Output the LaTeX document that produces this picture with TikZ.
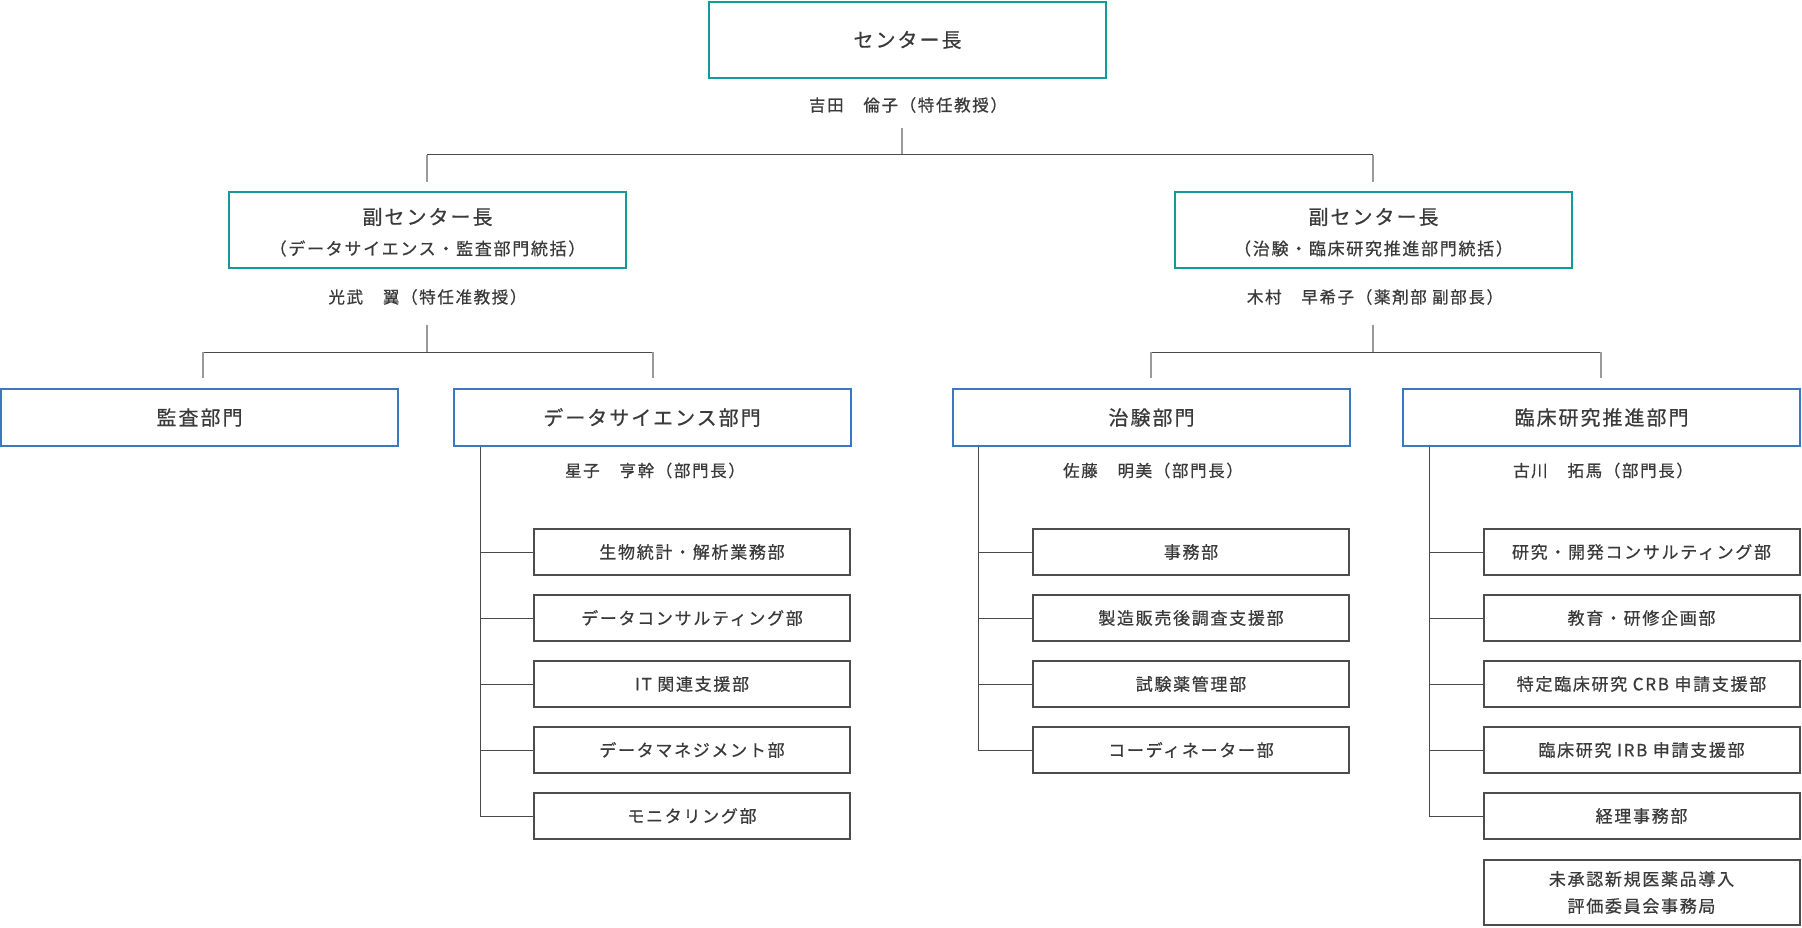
\documentclass[tikz,border=0pt]{standalone}
\usepackage{fontspec}
\setmainfont{Noto Sans CJK JP}[LetterSpace=10,FakeBold=0.6]
\definecolor{tealc}{HTML}{139B9B}
\definecolor{bluec}{HTML}{3A78C1}
\definecolor{boxc}{HTML}{4D4D4D}
\definecolor{txtc}{HTML}{3A3A3A}
\definecolor{lnc}{HTML}{4A4A4A}
\definecolor{dropc}{HTML}{9A9A9A}
\tikzset{
  tealbox/.style={draw=tealc, line width=2pt, minimum width=397pt, minimum height=76pt, inner sep=0pt},
  bluebox/.style={draw=bluec, line width=2pt, minimum width=397pt, minimum height=57pt, inner sep=0pt, font=\fontsize{20}{24}\selectfont},
  subbox/.style={draw=boxc, line width=2pt, minimum width=316pt, minimum height=46pt, inner sep=0pt, font=\fontsize{17}{27}\selectfont, align=center},
  ttl/.style={inner sep=0pt, font=\fontsize{20}{24}\selectfont},
  subt/.style={inner sep=0pt, font=\fontsize{17}{21}\selectfont},
  nm/.style={inner sep=0pt, font=\fontsize{16.5}{20}\selectfont},
  conn/.style={draw=lnc, line width=1pt},
  dropln/.style={draw=dropc, line width=1.5pt},
  tree/.style={draw=lnc, line width=1pt},
}
\begin{document}
\begin{tikzpicture}[x=1pt,y=-1pt, every node/.style={text=txtc}]
\useasboundingbox[fill=white] (0,0) rectangle (1802,928);

% director
\node[tealbox, font=\fontsize{20}{24}\selectfont] (dir) at (907.5,40) {センター長};
\node[nm] (dirn) at (908,105) {吉田　倫子（特任教授）};
\coordinate (c0) at (902,128);
\coordinate (c1) at (902,155);
\coordinate (hL) at (427,155);
\coordinate (hR) at (1373,155);
\coordinate (hLd) at (427,182);
\coordinate (hRd) at (1373,182);
\draw[dropln] (c0) -- (c1);
\draw[conn] (hL) -- (hR);
\draw[dropln] (hL) -- (hLd);
\draw[dropln] (hR) -- (hRd);

% vice directors
\node[tealbox] (vL) at (427.5,230) {};
\node[ttl] (vLt) at (427.5,217) {副センター長};
\node[subt] (vLs) at (427.5,248.5) {（データサイエンス・監査部門統括）};
\node[nm] (vLn) at (427.5,297) {光武　翼（特任准教授）};

\node[tealbox] (vR) at (1373.5,230) {};
\node[ttl] (vRt) at (1373.5,217) {副センター長};
\node[subt] (vRs) at (1373.5,248.5) {（治験・臨床研究推進部門統括）};
\node[nm] (vRn) at (1375,297) {木村　早希子（薬剤部 副部長）};

\coordinate (l0) at (427,325);
\coordinate (l1) at (427,352);
\coordinate (lA) at (203,352);
\coordinate (lB) at (653,352);
\coordinate (lAd) at (203,378);
\coordinate (lBd) at (653,378);
\draw[dropln] (l0) -- (l1);
\draw[conn] (lA) -- (lB);
\draw[dropln] (lA) -- (lAd);
\draw[dropln] (lB) -- (lBd);

\coordinate (r0) at (1373,325);
\coordinate (r1) at (1373,352);
\coordinate (rA) at (1151,352);
\coordinate (rB) at (1601,352);
\coordinate (rAd) at (1151,378);
\coordinate (rBd) at (1601,378);
\draw[dropln] (r0) -- (r1);
\draw[conn] (rA) -- (rB);
\draw[dropln] (rA) -- (rAd);
\draw[dropln] (rB) -- (rBd);

% departments
\node[bluebox] (audit) at (199.5,417.5) {監査部門};
\node[bluebox] (ds) at (652,417.5) {データサイエンス部門};
\node[bluebox] (ck) at (1151.5,417.5) {治験部門};
\node[bluebox] (rs) at (1601.5,417.5) {臨床研究推進部門};

\node[nm] (dsn) at (655,470.5) {星子　亨幹（部門長）};
\node[nm] (ckn) at (1153,470.5) {佐藤　明美（部門長）};
\node[nm] (rsn) at (1603,470.5) {古川　拓馬（部門長）};

% data science sub units
\node[subbox] (a1) at (692,552) {生物統計・解析業務部};
\node[subbox] (a2) at (692,618) {データコンサルティング部};
\node[subbox] (a3) at (692,684) {IT 関連支援部};
\node[subbox] (a4) at (692,750) {データマネジメント部};
\node[subbox] (a5) at (692,816) {モニタリング部};
\coordinate (aT) at (480,447);
\draw[tree] (aT) |- (a5.west);
\foreach \n in {a1,a2,a3,a4} \draw[tree] (aT |- \n.west) -- (\n.west);

% clinical trial sub units
\node[subbox] (b1) at (1191,552) {事務部};
\node[subbox] (b2) at (1191,618) {製造販売後調査支援部};
\node[subbox] (b3) at (1191,684) {試験薬管理部};
\node[subbox] (b4) at (1191,750) {コーディネーター部};
\coordinate (bT) at (978.5,447);
\draw[tree] (bT) |- (b4.west);
\foreach \n in {b1,b2,b3} \draw[tree] (bT |- \n.west) -- (\n.west);

% clinical research sub units
\node[subbox] (c1n) at (1641.5,552) {研究・開発コンサルティング部};
\node[subbox] (c2n) at (1641.5,618) {教育・研修企画部};
\node[subbox] (c3n) at (1641.5,684) {特定臨床研究 CRB 申請支援部};
\node[subbox] (c4n) at (1641.5,750) {臨床研究 IRB 申請支援部};
\node[subbox] (c5n) at (1641.5,816) {経理事務部};
\node[subbox, minimum height=65pt] (c6n) at (1641.5,892.5) {未承認新規医薬品導入\\評価委員会事務局};
\coordinate (cT) at (1429,447);
\draw[tree] (cT) |- (c5n.west);
\foreach \n in {c1n,c2n,c3n,c4n} \draw[tree] (cT |- \n.west) -- (\n.west);
\end{tikzpicture}
\end{document}
